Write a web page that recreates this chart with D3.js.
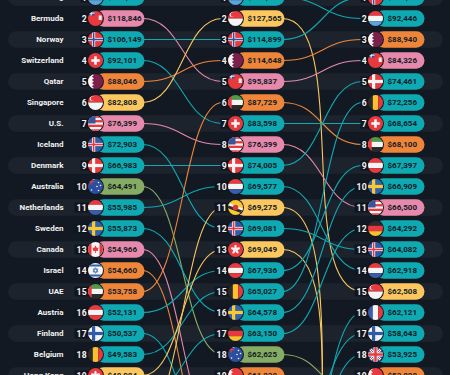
<!DOCTYPE html>
<html>
<head>
<meta charset="utf-8">
<script src="https://cdn.jsdelivr.net/npm/d3@7"></script>
<style>
  html, body { margin: 0; padding: 0; background: #131923; overflow: hidden; }
  text { font-family: Roboto, sans-serif; }
</style>
</head>
<body>
<div id="chart"></div>
<script>
const columns = ["first", "second", "third"];

const namesA = ["Luxembourg", "Bermuda", "Norway", "Switzerland", "Qatar", "Singapore", "U.S.", "Iceland", "Denmark", "Australia", "Netherlands", "Sweden", "Canada", "Israel", "UAE", "Austria", "Finland", "Belgium", "Hong Kong"];
const valuesA = [143127, 118846, 106149, 92101, 88046, 82808, 76399, 72903, 66983, 64491, 55985, 55873, 54966, 54660, 53758, 52131, 50537, 49583, 48984];

const namesB = ["Luxembourg", "Singapore", "Norway", "Qatar", "Bermuda", "UAE", "Switzerland", "U.S.", "Denmark", "Netherlands", "Brunei", "Iceland", "Hong Kong", "Austria", "Belgium", "Sweden", "Germany", "Australia", "Bahrain"];
const valuesB = [145247, 127565, 114899, 114648, 95837, 87729, 83598, 76399, 74005, 69577, 69275, 69081, 69049, 67936, 65027, 64578, 63150, 62625, 61238];

const namesC = ["Norway", "Luxembourg", "Qatar", "Bermuda", "Denmark", "Belgium", "Switzerland", "UAE", "Austria", "Sweden", "U.S.", "Germany", "Iceland", "Netherlands", "Singapore", "France", "Finland", "U.K.", "Bahrain"];
const valuesC = [114899, 92446, 88940, 84326, 74461, 72256, 68654, 68100, 67397, 66909, 66500, 64292, 64082, 62918, 62508, 62121, 58643, 53925, 53828];

const regionOf = {
  "Luxembourg": "europe", "Norway": "europe", "Switzerland": "europe", "Iceland": "europe", "Denmark": "europe",
  "Netherlands": "europe", "Sweden": "europe", "Austria": "europe", "Finland": "europe", "Belgium": "europe",
  "Germany": "europe", "France": "europe", "U.K.": "europe",
  "Bermuda": "america", "U.S.": "america", "Canada": "america",
  "Qatar": "mideast", "Israel": "mideast", "UAE": "mideast", "Bahrain": "mideast",
  "Singapore": "asia", "Hong Kong": "asia", "Brunei": "asia",
  "Australia": "oceania"
};
const regionColors = { europe: "#0fa9b2", america: "#e689aa", mideast: "#ee8539", asia: "#fbc75e", oceania: "#86ab62" };

// rank in one column -> rank in the next, ranks over 19 are below the crop
const fromAB = [1, 2, 3, 4, 5, 6, 7, 8, 9, 10, 11, 12, 13, 14, 15, 16, 17, 18, 19, 20, 21, 22];
const toAB = [1, 5, 3, 7, 4, 2, 8, 12, 9, 18, 10, 16, 22, 24, 6, 14, 23, 15, 13, 17, 11, 19];
const regionAB = ["europe", "america", "europe", "europe", "mideast", "asia", "america", "europe", "europe", "oceania", "europe", "europe", "america", "mideast", "mideast", "europe", "europe", "europe", "asia", "europe", "asia", "mideast"];

const fromBC = [1, 2, 3, 4, 5, 6, 7, 8, 9, 10, 11, 12, 13, 14, 15, 16, 17, 18, 19, 26, 25, 23];
const toBC = [2, 15, 1, 3, 4, 8, 7, 11, 5, 14, 30, 13, 28, 9, 6, 10, 12, 20, 19, 16, 18, 17];
const regionBC = ["europe", "asia", "europe", "mideast", "america", "mideast", "europe", "america", "europe", "europe", "asia", "europe", "asia", "europe", "europe", "europe", "europe", "oceania", "mideast", "europe", "europe", "europe"];
// the long yellow lines drop much more steeply than the others
const steepBC = [2, 11, 13];

const width = 450, height = 375;
const pillW = 49, pillH = 16.5, flagR = 7.5;
const bgColor = "#131923", bandColor = "#1c232d", boxColor = "#10151e", inkColor = "#0e1c26";

const svg = d3.select("#chart").append("svg")
  .attr("width", width)
  .attr("height", height)
  .style("display", "block")
  .style("background-color", bgColor);

const xCol = d3.scalePoint().domain(columns).range([95.5, 375.5]);
const yRank = d3.scaleLinear().domain([2, 19]).range([18.5, 375.5]);

// every other row gets a lighter band
svg.append("g").selectAll("rect")
  .data(d3.range(1, 20).filter(r => r % 2 == 1))
  .join("rect")
    .attr("x", 8)
    .attr("y", d => yRank(d) - pillH / 2)
    .attr("width", 435)
    .attr("height", pillH)
    .attr("rx", pillH / 2)
    .attr("fill", bandColor);

function linkPath(x0, y0, x1, y1, k) {
  const p = d3.path();
  p.moveTo(x0, y0);
  p.bezierCurveTo(x0 + (x1 - x0) * k, y0, x1 - (x1 - x0) * k, y1, x1, y1);
  return p.toString();
}

function drawLinks(fromCol, toCol, from, to, regions, steep) {
  svg.append("g").selectAll("path")
    .data(from.map((f, i) => ({ f: f, t: to[i], region: regions[i] })))
    .join("path")
      .attr("d", d => {
        const k = steep.includes(d.f) ? (d.f == 2 ? 0.85 : 1) : 0.5;
        const path = linkPath(xCol(fromCol) + pillW - 2, yRank(d.f), xCol(toCol) - 13, yRank(d.t), k);
        // the rest of the way to the flag runs under the rank box
        return path + "L" + xCol(toCol) + "," + yRank(d.t);
      })
      .attr("fill", "none")
      .attr("stroke", d => regionColors[d.region])
      .attr("stroke-width", 1.1);
}
drawLinks("first", "second", fromAB, toAB, regionAB, []);
drawLinks("second", "third", fromBC, toBC, regionBC, steepBC);

// flags are drawn in a 16x16 box centred on the circle
function rects(g, list) {
  list.forEach(r => g.append("rect").attr("x", r[0]).attr("y", r[1]).attr("width", r[2]).attr("height", r[3]).attr("fill", r[4]));
}
function crossFlag(g, bg, outer, inner) {
  rects(g, [[-8, -8, 16, 16, bg], [-3.5, -8, 3.2, 16, outer], [-8, -1.6, 16, 3.2, outer]]);
  if (inner) rects(g, [[-2.7, -8, 1.6, 16, inner], [-8, -0.8, 16, 1.6, inner]]);
}
const flagDraw = {
  "Luxembourg": g => rects(g, [[-8, -8, 16, 5.4, "#e8393f"], [-8, -2.7, 16, 5.4, "#f5f5f5"], [-8, 2.7, 16, 5.4, "#5aa5dc"]]),
  "Netherlands": g => rects(g, [[-8, -8, 16, 5.4, "#e8393f"], [-8, -2.7, 16, 5.4, "#f5f5f5"], [-8, 2.7, 16, 5.4, "#3b5cab"]]),
  "Austria": g => rects(g, [[-8, -8, 16, 5.4, "#e8393f"], [-8, -2.7, 16, 5.4, "#f5f5f5"], [-8, 2.7, 16, 5.4, "#e8393f"]]),
  "Germany": g => rects(g, [[-8, -8, 16, 5.4, "#2b2b2b"], [-8, -2.7, 16, 5.4, "#e8393f"], [-8, 2.7, 16, 5.4, "#fbc02d"]]),
  "Belgium": g => rects(g, [[-8, -8, 5.4, 16, "#2b2b2b"], [-2.7, -8, 5.4, 16, "#fbc02d"], [2.7, -8, 5.4, 16, "#e8393f"]]),
  "France": g => rects(g, [[-8, -8, 5.4, 16, "#3b5cab"], [-2.7, -8, 5.4, 16, "#f5f5f5"], [2.7, -8, 5.4, 16, "#e8393f"]]),
  "Norway": g => crossFlag(g, "#e8393f", "#f5f5f5", "#2f4f9e"),
  "Iceland": g => crossFlag(g, "#2f5ba8", "#f5f5f5", "#e8393f"),
  "Denmark": g => crossFlag(g, "#e8393f", "#f5f5f5"),
  "Sweden": g => crossFlag(g, "#2f64ad", "#fbc830"),
  "Finland": g => crossFlag(g, "#f5f5f5", "#2f5ba8"),
  "Switzerland": g => rects(g, [[-8, -8, 16, 16, "#e8393f"], [-1.3, -4.2, 2.6, 8.4, "#f5f5f5"], [-4.2, -1.3, 8.4, 2.6, "#f5f5f5"]]),
  "Qatar": g => {
    rects(g, [[-8, -8, 16, 16, "#7d1f4b"], [-8, -8, 4.5, 16, "#f5f5f5"]]);
    d3.range(5).forEach(i => g.append("path").attr("d", d3.line()([[-3.6, -8 + i * 3.2], [-1.6, -6.4 + i * 3.2], [-3.6, -4.8 + i * 3.2]])).attr("fill", "#f5f5f5"));
  },
  "Bahrain": g => {
    rects(g, [[-8, -8, 16, 16, "#e8393f"], [-8, -8, 3.5, 16, "#f5f5f5"]]);
    d3.range(5).forEach(i => g.append("path").attr("d", d3.line()([[-4.6, -8 + i * 3.2], [-2.6, -6.4 + i * 3.2], [-4.6, -4.8 + i * 3.2]])).attr("fill", "#f5f5f5"));
  },
  "Singapore": g => {
    rects(g, [[-8, -8, 16, 8, "#e8393f"], [-8, 0, 16, 8, "#f5f5f5"]]);
    g.append("circle").attr("cx", -3.6).attr("cy", -4).attr("r", 2.4).attr("fill", "#f5f5f5");
    g.append("circle").attr("cx", -2.6).attr("cy", -4).attr("r", 2.2).attr("fill", "#e8393f");
  },
  "Bermuda": g => {
    rects(g, [[-8, -8, 16, 16, "#e8393f"], [-8, -8, 7, 5, "#2f4f9e"], [-8, -6, 7, 1.2, "#f5f5f5"], [-5, -8, 1.2, 5, "#f5f5f5"], [3.2, -3, 3, 4.5, "#f5f5f5"]]);
  },
  "U.S.": g => {
    rects(g, [[-8, -8, 16, 16, "#f5f5f5"]]);
    d3.range(4).forEach(i => rects(g, [[-8, -8 + i * 4.6, 16, 2.3, "#e8393f"]]));
    rects(g, [[-8, -8, 8, 8, "#35569f"]]);
  },
  "Australia": g => {
    rects(g, [[-8, -8, 16, 16, "#2b4f9e"], [-8, -8, 7, 1.3, "#f5f5f5"], [-5, -8, 1.3, 6, "#e8393f"], [-8, -5.5, 7, 1.2, "#e8393f"]]);
    [[3, -4], [5, -1], [1.5, 0], [3, 4], [-4, 3.5]].forEach(p => g.append("circle").attr("cx", p[0]).attr("cy", p[1]).attr("r", 0.8).attr("fill", "#f5f5f5"));
  },
  "Canada": g => {
    rects(g, [[-8, -8, 16, 16, "#f5f5f5"], [-8, -8, 4, 16, "#e8393f"], [4, -8, 4, 16, "#e8393f"]]);
    g.append("path").attr("d", "M0,-4L1.4,-1.6L3,-2L2.2,1.4L0.4,1.4L0.4,3.4L-0.4,3.4L-0.4,1.4L-2.2,1.4L-3,-2L-1.4,-1.6Z").attr("fill", "#e8393f");
  },
  "Israel": g => {
    rects(g, [[-8, -8, 16, 16, "#f5f5f5"], [-8, -6, 16, 2, "#2f64ad"], [-8, 4, 16, 2, "#2f64ad"]]);
    g.append("path").attr("d", "M0,-2.8L2.4,1.4L-2.4,1.4ZM0,2.8L2.4,-1.4L-2.4,-1.4Z").attr("fill", "none").attr("stroke", "#2f64ad").attr("stroke-width", 0.7);
  },
  "UAE": g => rects(g, [[-8, -8, 16, 5.4, "#4f9a48"], [-8, -2.7, 16, 5.4, "#f5f5f5"], [-8, 2.7, 16, 5.4, "#2b2b2b"], [-8, -8, 4.2, 16, "#e8393f"]]),
  "Hong Kong": g => {
    rects(g, [[-8, -8, 16, 16, "#e8393f"]]);
    d3.range(5).forEach(i => g.append("ellipse").attr("cx", 0).attr("cy", -2.4).attr("rx", 1.2).attr("ry", 2.4).attr("fill", "#f5f5f5").attr("transform", "rotate(" + (i * 72) + ")"));
  },
  "Brunei": g => {
    rects(g, [[-8, -8, 16, 16, "#fbc830"]]);
    g.append("path").attr("d", "M-8,-5L8,1L8,5L-8,-1Z").attr("fill", "#f5f5f5");
    g.append("path").attr("d", "M-8,-2.5L8,3.5L8,6.5L-8,0.5Z").attr("fill", "#2b2b2b");
    g.append("circle").attr("r", 2.8).attr("fill", "#d8383a");
  },
  "U.K.": g => {
    rects(g, [[-8, -8, 16, 16, "#2b4f9e"]]);
    g.append("path").attr("d", "M-8,-8L8,8M8,-8L-8,8").attr("stroke", "#f5f5f5").attr("stroke-width", 2.6);
    g.append("path").attr("d", "M-8,-8L8,8M8,-8L-8,8").attr("stroke", "#e8393f").attr("stroke-width", 1);
    rects(g, [[-2, -8, 4, 16, "#f5f5f5"], [-8, -2, 16, 4, "#f5f5f5"], [-1.2, -8, 2.4, 16, "#e8393f"], [-8, -1.2, 16, 2.4, "#e8393f"]]);
  }
};

svg.append("defs").append("clipPath").attr("id", "flagClip")
  .append("circle").attr("r", flagR);

function drawColumn(col, names, values) {
  const rows = svg.append("g").selectAll("g")
    .data(names.map((n, i) => ({ name: n, value: values[i], rank: i + 1 })))
    .join("g")
      .attr("transform", d => "translate(" + xCol(col) + "," + yRank(d.rank) + ")");

  rows.append("rect")
    .attr("y", -pillH / 2)
    .attr("width", pillW)
    .attr("height", pillH)
    .attr("rx", pillH / 2)
    .attr("fill", d => regionColors[regionOf[d.name]]);

  rows.append("text")
    .attr("x", 12)
    .attr("dy", "0.36em")
    .attr("fill", inkColor)
    .style("font-size", "8px")
    .style("font-weight", 700)
    .text(d => d3.format("$,")(d.value));

  // dark box under the rank number hides the end of the line
  rows.append("rect")
    .attr("x", d => d.rank > 9 ? -21 : -15)
    .attr("y", -5)
    .attr("width", d => d.rank > 9 ? 15 : 9)
    .attr("height", 10)
    .attr("fill", boxColor);

  rows.append("text")
    .attr("x", -8.5)
    .attr("dy", "0.36em")
    .attr("text-anchor", "end")
    .attr("fill", "#f4f4f4")
    .style("font-size", "8.6px")
    .style("font-weight", 700)
    .style("letter-spacing", "0.3px")
    .text(d => d.rank);

  rows.append("circle").attr("r", flagR + 1).attr("fill", bgColor);
  rows.append("g")
    .attr("clip-path", "url(#flagClip)")
    .each(function(d) { flagDraw[d.name](d3.select(this)); });
}
drawColumn("first", namesA, valuesA);
drawColumn("second", namesB, valuesB);
drawColumn("third", namesC, valuesC);

svg.append("g").selectAll("text")
  .data(namesA)
  .join("text")
    .attr("x", 63.5)
    .attr("y", (d, i) => yRank(i + 1))
    .attr("dy", "0.36em")
    .attr("text-anchor", "end")
    .attr("fill", "#f2f2f2")
    .style("font-size", "8px")
    .style("font-weight", 700)
    .text(d => d);
</script>
</body>
</html>
